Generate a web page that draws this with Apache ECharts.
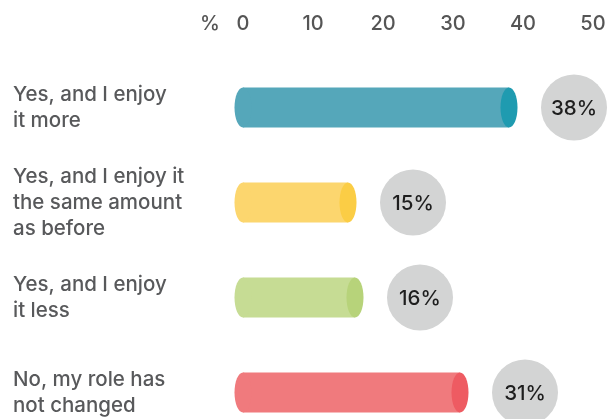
<!DOCTYPE html>
<html>
<head>
<meta charset="utf-8">
<script src="https://cdn.jsdelivr.net/npm/echarts@6/dist/echarts.min.js"></script>
<style>
  html, body { margin: 0; padding: 0; background: #fff; }
  #chart { width: 615px; height: 419px; }
</style>
</head>
<body>
<div id="chart"></div>
<script>
// Survey answers and their shares (%)
const categories = [
  'Yes, and I enjoy\nit more',
  'Yes, and I enjoy it\nthe same amount\nas before',
  'Yes, and I enjoy\nit less',
  'No, my role has\nnot changed'
];
const values = [38, 15, 16, 31];
const xTicks = [0, 10, 20, 30, 40, 50];

// Cylinder colours: body and the lit end cap
const bodyColors = ['#55a7ba', '#fcd66e', '#c6dc94', '#f07a7d'];
const capColors = ['#1f9bb0', '#fbcd45', '#b7d37a', '#ee5b62'];

const FONT = 'Inter, "Noto Sans", sans-serif';

const chart = echarts.init(document.getElementById('chart'));

function renderCylinder(params, api) {
  const idx = api.value(0);
  const v = api.value(1);
  const end = api.coord([v, idx]);
  const start = api.coord([0, idx]);
  const h = 40, rx = 8.5, ry = h / 2;
  const cy = end[1];
  const bubbleX = end[0] + 65;
  return {
    type: 'group',
    children: [
      { type: 'rect', shape: { x: start[0], y: cy - ry, width: end[0] - start[0], height: h },
        style: { fill: bodyColors[idx] } },
      { type: 'ellipse', shape: { cx: start[0], cy: cy, rx: rx, ry: ry },
        style: { fill: bodyColors[idx] } },
      { type: 'ellipse', shape: { cx: end[0], cy: cy, rx: rx, ry: ry },
        style: { fill: capColors[idx] } },
      { type: 'circle', shape: { cx: bubbleX, cy: cy, r: 33 },
        style: { fill: '#d3d4d4' } },
      { type: 'text', x: bubbleX, y: cy + 1,
        style: { text: v + '%', fill: '#1e1e1e', font: '500 20.5px ' + FONT,
                 align: 'center', verticalAlign: 'middle' } }
    ]
  };
}

chart.setOption({
  animation: false,
  grid: { left: 243, top: 60, width: 350, height: 380, containLabel: false, outerBoundsMode: 'none' },
  xAxis: {
    type: 'value',
    position: 'top',
    min: xTicks[0],
    max: xTicks[xTicks.length - 1],
    interval: 10,
    axisLine: { show: false },
    axisTick: { show: false },
    splitLine: { show: false },
    axisLabel: { margin: 26, color: '#555', fontSize: 20, fontWeight: 500, fontFamily: FONT }
  },
  yAxis: {
    type: 'category',
    data: categories,
    inverse: true,
    axisLine: { show: false },
    axisTick: { show: false },
    axisLabel: {
      align: 'left', margin: 230, color: '#58595b', fontSize: 20.5, fontWeight: 500,
      lineHeight: 26, fontFamily: FONT
    }
  },
  graphic: [
    { type: 'text', left: 200, top: 14,
      style: { text: '%', fill: '#555', font: '500 20px ' + FONT } }
  ],
  series: [{
    type: 'custom',
    renderItem: renderCylinder,
    encode: { x: 1, y: 0 },
    data: values.map((v, i) => [i, v])
  }]
});
</script>
</body>
</html>
